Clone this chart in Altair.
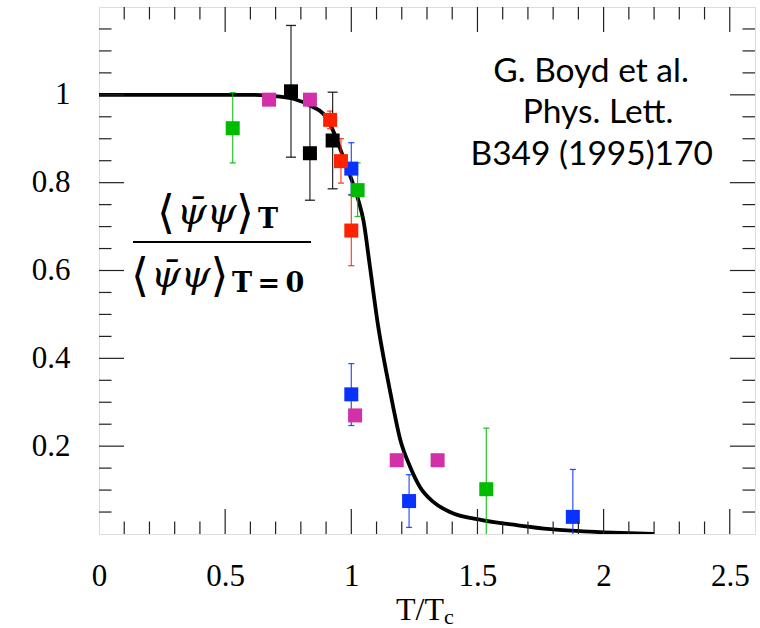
import altair as alt
import pandas as pd

# ---------------- data ----------------
curve_x = [0.0, 0.32, 0.585, 0.717, 0.77, 0.849, 0.889, 0.925, 0.968, 1.002, 1.028, 1.048,
           1.074, 1.107, 1.14, 1.166, 1.193, 1.233, 1.272, 1.325, 1.391, 1.523, 1.656,
           1.788, 1.92, 2.037, 2.2]
curve_y = [1.0, 1.0, 1.0, 0.996, 0.991, 0.972, 0.957, 0.922, 0.858, 0.805, 0.76, 0.714,
           0.608, 0.471, 0.365, 0.289, 0.217, 0.153, 0.107, 0.073, 0.05, 0.031, 0.02,
           0.011, 0.006, 0.003, 0.0]

green_x = [0.53, 1.025, 1.535]
green_y = [0.924, 0.783, 0.102]
green_lo = [0.845, 0.723, -0.037]
green_hi = [1.005, 0.845, 0.241]

blue_x = [1.0, 1.0, 1.229, 1.878]
blue_y = [0.832, 0.318, 0.075, 0.039]
blue_lo = [0.773, 0.247, 0.015, -0.07]
blue_hi = [0.891, 0.388, 0.135, 0.147]

red_x = [0.916, 0.959, 1.0]
red_y = [0.943, 0.849, 0.691]
red_lo = [0.923, 0.799, 0.611]
red_hi = [0.963, 0.900, 0.771]

magenta_x = [0.674, 0.836, 1.015, 1.18, 1.342]
magenta_y = [0.989, 0.989, 0.27, 0.168, 0.168]

black_x = [0.761, 0.836, 0.926]
black_y = [1.008, 0.867, 0.896]
black_lo = [0.858, 0.760, 0.786]
black_hi = [1.158, 0.977, 1.006]

x_labels = [0, 0.5, 1, 1.5, 2, 2.5]
y_labels = [0.2, 0.4, 0.6, 0.8, 1]
x_major = [0.5, 1.0, 1.5, 2.0, 2.5]
x_minor = [0.1, 0.2, 0.3, 0.4, 0.6, 0.7, 0.8, 0.9, 1.1, 1.2, 1.3, 1.4, 1.6, 1.7, 1.8,
           1.9, 2.1, 2.2, 2.3, 2.4]
y_major = [0.2, 0.4, 0.6, 0.8, 1.0]
y_minor = [0.05, 0.1, 0.15, 0.25, 0.3, 0.35, 0.45, 0.5, 0.55, 0.65, 0.7, 0.75, 0.85,
           0.9, 0.95, 1.05, 1.1, 1.15]

citation = ["G. Boyd et al.", "Phys. Lett.", "B349 (1995)170"]

# ---------------- layout ----------------
W, H = 656, 527
XD, YD = [0, 2.6], [0, 1.2]
SERIF = "Liberation Serif"
xs = alt.Scale(domain=XD, nice=False, zero=False)
ys = alt.Scale(domain=YD, nice=False, zero=False)
xaxis = alt.Axis(values=x_labels, format="~g", ticks=False, domain=False, grid=False,
                 labelFont=SERIF, labelFontSize=31, labelColor="black",
                 labelPadding=27, labelFlush=False, title=None)
yaxis = alt.Axis(values=y_labels, format="~g", ticks=False, domain=False, grid=False,
                 labelFont=SERIF, labelFontSize=31, labelColor="black",
                 labelPadding=29, labelFlush=False, title=None)


def X(f):
    return alt.X(f, type="quantitative", scale=xs, axis=xaxis)


def Y(f):
    return alt.Y(f, type="quantitative", scale=ys, axis=yaxis)


layers = []

curve = alt.Chart(pd.DataFrame({"x": curve_x, "y": curve_y})).mark_line(
    color="black", strokeWidth=3.8, interpolate="monotone", clip=True
).encode(x=X("x"), y=Y("y"))
layers.append(curve)

series = [
    ("green", green_x, green_y, green_lo, green_hi, "#00bb00"),
    ("blue", blue_x, blue_y, blue_lo, blue_hi, "#0a32ff"),
    ("red", red_x, red_y, red_lo, red_hi, "#ff2200"),
    ("magenta", magenta_x, magenta_y, None, None, "#d22fa9"),
    ("black", black_x, black_y, black_lo, black_hi, "#000000"),
]

# error bars first
for name, sx, sy, lo, hi, col in series:
    if lo is None:
        continue
    df = pd.DataFrame({"x": sx, "y": sy, "lo": lo, "hi": hi})
    base = alt.Chart(df)
    bar = base.mark_rule(color=col, strokeWidth=1.2, opacity=0.85, clip=True).encode(
        x=X("x"), y=Y("lo"), y2="hi")
    cap_w = 10 if name == "black" else 6
    cap_hi = base.mark_tick(color=col, orient="horizontal", size=cap_w, thickness=1.3,
                            opacity=0.85, clip=True).encode(x=X("x"), y=Y("hi"))
    cap_lo = base.mark_tick(color=col, orient="horizontal", size=cap_w, thickness=1.3,
                            opacity=0.85, clip=True).encode(x=X("x"), y=Y("lo"))
    layers += [bar, cap_hi, cap_lo]

for name, sx, sy, lo, hi, col in series:
    df = pd.DataFrame({"x": sx, "y": sy})
    pts = alt.Chart(df).mark_point(shape="square", filled=True, size=196, color=col,
                                   opacity=1).encode(x=X("x"), y=Y("y"))
    layers.append(pts)

# inward frame ticks
TC, TW = "#222222", 1.2
for vals, ln in [(x_major, 25), (x_minor, 12.5)]:
    d = pd.DataFrame({"v": vals})
    layers.append(alt.Chart(d).mark_rule(color=TC, strokeWidth=TW).encode(
        x=X("v"), y=alt.value(H), y2=alt.value(H - ln)))
    layers.append(alt.Chart(d).mark_rule(color=TC, strokeWidth=TW).encode(
        x=X("v"), y=alt.value(0), y2=alt.value(ln)))
for vals, ln in [(y_major, 25), (y_minor, 12.5)]:
    d = pd.DataFrame({"v": vals})
    layers.append(alt.Chart(d).mark_rule(color=TC, strokeWidth=TW).encode(
        y=Y("v"), x=alt.value(0), x2=alt.value(ln)))
    layers.append(alt.Chart(d).mark_rule(color=TC, strokeWidth=TW).encode(
        y=Y("v"), x=alt.value(W), x2=alt.value(W - ln)))

# text annotations
one = pd.DataFrame({"d": [0]})


def txt(s, x, y, size, font, style="normal", weight="normal", align="left"):
    return alt.Chart(one).mark_text(
        text=s, font=font, fontSize=size, fontStyle=style, fontWeight=weight,
        align=align, baseline="alphabetic", color="black"
    ).encode(x=alt.value(x), y=alt.value(y))


layers.append(txt(citation[0], 492, 74.7, 33.5, "Lato", align="center"))
layers.append(txt(citation[1], 499, 116.2, 33.5, "Lato", align="center"))
layers.append(txt(citation[2], 492.7, 157.7, 33.5, "Lato", align="center"))

# y-quantity fraction
MATH = "DejaVu Serif"
layers.append(txt("\u27e8", 58, 221, 46, MATH))
layers.append(txt("\u03c8\u0304\u03c8", 78, 217, 38, MATH, style="italic"))
layers.append(txt("\u27e9", 137, 221, 46, MATH))
layers.append(txt("T", 159, 221, 27, MATH, weight="bold"))
layers.append(alt.Chart(one).mark_rule(color="black", strokeWidth=2).encode(
    x=alt.value(34), x2=alt.value(212), y=alt.value(235)))
layers.append(txt("\u27e8", 32, 284, 46, MATH))
layers.append(txt("\u03c8\u0304\u03c8", 52, 280, 38, MATH, style="italic"))
layers.append(txt("\u27e9", 111.5, 284, 46, MATH))
layers.append(txt("T\u2009=\u20090", 133, 285, 27, MATH, weight="bold"))

# x title T/Tc
layers.append(txt("T/T", 297, 613, 32, SERIF))
layers.append(txt("c", 345, 617, 22, SERIF))

chart = alt.layer(*layers).properties(
    width=W, height=H,
    autosize=alt.AutoSizeParams(type="none"),
    padding={"left": 99, "top": 7, "right": 5, "bottom": 94},
).configure_view(stroke="black", strokeWidth=3).configure(
    background="white"
).configure_axis(labelFont=SERIF, labelFontSize=31, labelColor="black")

chart.save("out.html", embed_options={"renderer": "svg", "actions": False})
